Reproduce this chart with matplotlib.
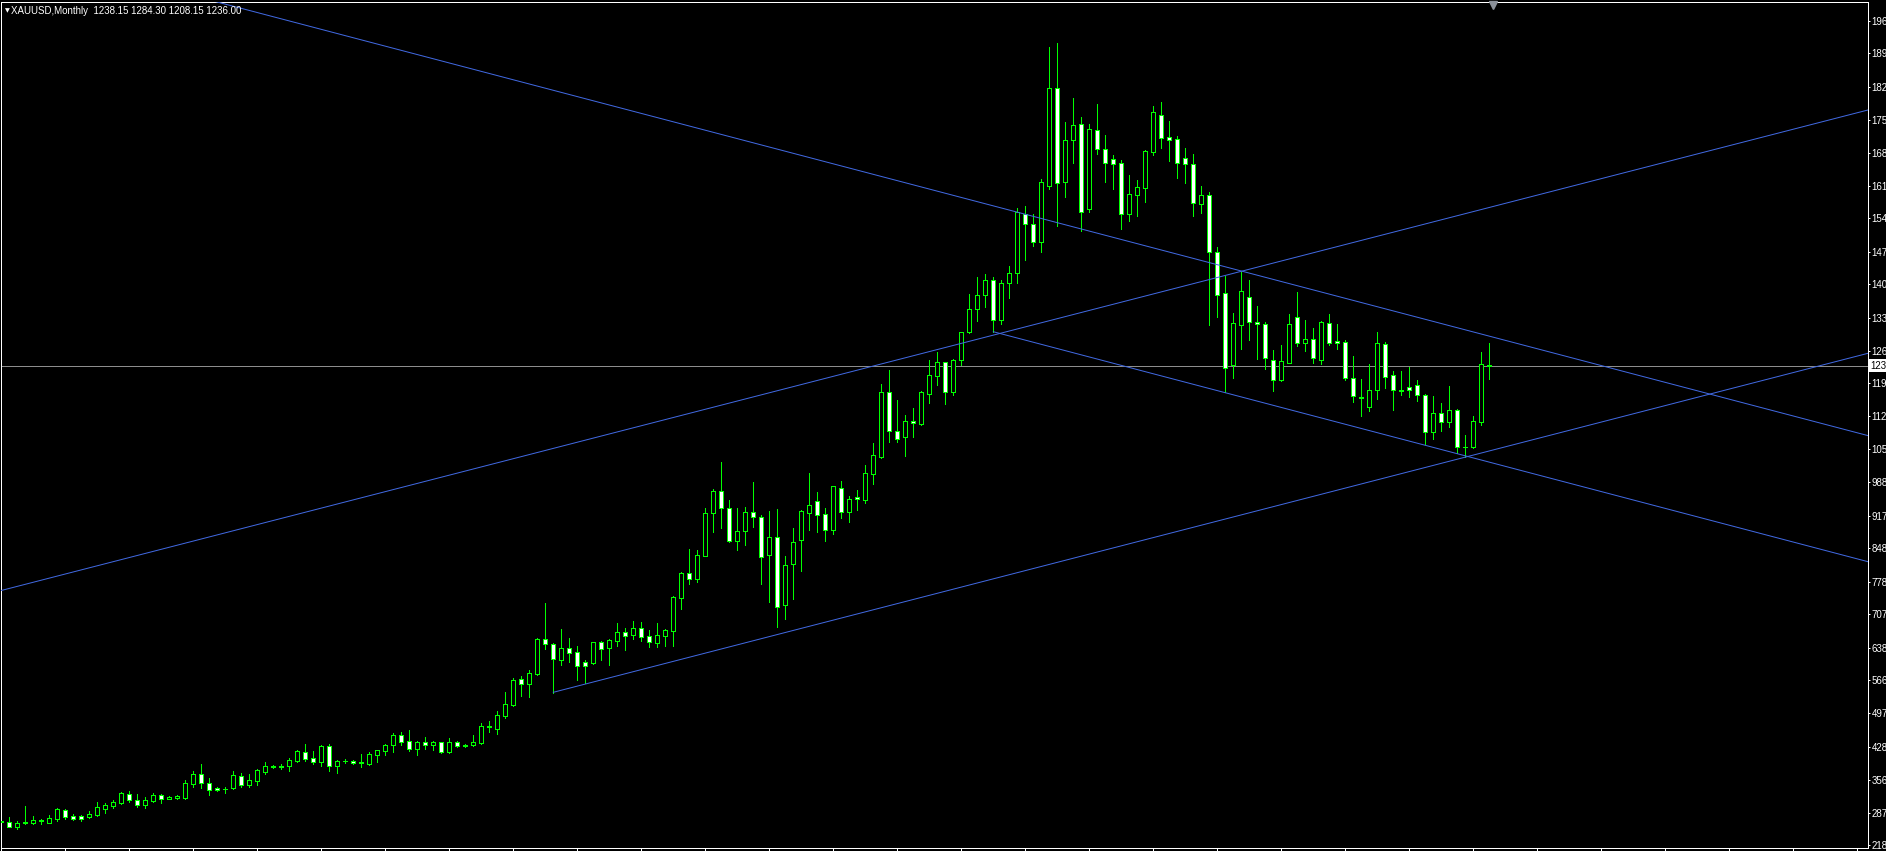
import matplotlib
matplotlib.use("Agg")
import matplotlib.pyplot as plt
import numpy as np

# monthly XAUUSD bars (oldest first)
OPEN = [
    268.0, 266.6, 257.4, 264.5, 266.0, 270.0, 265.9, 273.7, 292.8, 280.0,
    280.0, 277.9, 282.9, 295.6, 302.0, 308.3, 326.8, 313.3, 304.1, 311.9,
    323.9, 317.0, 319.0, 319.0, 348.7, 369.2, 350.1, 338.8, 337.0, 339.5,
    365.0, 346.6, 355.1, 374.2, 385.0, 386.0, 385.5, 397.5, 415.2, 402.5,
    395.4, 428.0, 386.9, 396.8, 396.8, 393.0, 391.2, 410.3, 418.8, 430.0,
    452.0, 439.3, 423.0, 437.2, 430.1, 436.5, 416.6, 437.2, 430.0, 430.0,
    435.7, 471.0, 465.5, 493.1, 516.5, 570.3, 561.1, 582.3, 655.2, 644.6,
    612.0, 636.8, 627.6, 607.0, 605.7, 648.8, 637.5, 652.4, 670.1, 665.1,
    678.6, 661.6, 648.1, 663.0, 673.6, 743.7, 795.3, 784.0, 832.8, 923.0,
    971.0, 933.0, 865.0, 885.9, 924.8, 914.2, 835.0, 871.7, 728.8, 815.8,
    866.1, 924.1, 948.9, 921.3, 888.0, 976.5, 926.2, 957.4, 951.7, 1006.9,
    1043.0, 1179.6, 1096.8, 1084.0, 1118.0, 1113.0, 1176.8, 1215.0, 1243.3, 1181.0,
    1248.0, 1307.0, 1357.0, 1386.0, 1417.4, 1332.5, 1411.0, 1432.3, 1559.0, 1536.3,
    1499.5, 1617.0, 1825.0, 1626.9, 1714.6, 1748.6, 1568.0, 1735.9, 1695.5, 1674.3,
    1665.8, 1559.0, 1599.0, 1614.2, 1690.6, 1767.7, 1721.0, 1716.8, 1676.4, 1663.7,
    1578.8, 1597.9, 1476.8, 1389.8, 1238.3, 1323.6, 1381.0, 1328.2, 1324.0, 1247.5,
    1205.0, 1242.6, 1338.8, 1283.6, 1292.0, 1247.5, 1326.0, 1287.9, 1285.7, 1209.3,
    1169.0, 1147.7, 1185.2, 1281.5, 1215.7, 1183.0, 1190.2, 1194.4, 1173.2, 1094.6,
    1135.0, 1115.9, 1141.4, 1064.5, 1062.8, 1117.3, 1238.15,
]
HIGH = [
    274.0, 277.2, 269.4, 301.3, 280.0, 274.4, 281.5, 297.0, 295.6, 284.3,
    282.2, 290.7, 309.8, 307.6, 314.0, 331.0, 333.1, 326.8, 319.7, 329.6,
    327.5, 322.5, 323.9, 356.5, 374.9, 390.4, 360.7, 341.0, 341.6, 374.9,
    371.3, 369.2, 380.0, 394.7, 389.0, 390.5, 403.2, 420.2, 432.9, 418.1,
    430.0, 432.2, 399.0, 401.0, 399.0, 411.7, 415.9, 421.0, 432.9, 457.0,
    458.4, 462.6, 439.0, 447.8, 439.0, 438.0, 445.0, 439.0, 432.0, 452.0,
    476.8, 481.7, 503.0, 543.4, 573.1, 577.4, 590.0, 658.0, 732.3, 646.7,
    677.1, 658.0, 640.3, 611.0, 650.0, 652.0, 656.6, 689.9, 679.3, 694.1,
    692.0, 675.0, 689.9, 677.1, 747.2, 798.2, 847.0, 845.0, 935.0, 975.0,
    1032.0, 950.0, 934.0, 936.1, 989.2, 919.2, 927.6, 931.9, 832.1, 891.6,
    929.0, 1008.3, 968.0, 934.0, 981.5, 991.3, 959.5, 972.2, 1024.6, 1071.3,
    1197.3, 1227.0, 1163.3, 1131.5, 1146.3, 1181.7, 1249.0, 1265.0, 1245.0, 1251.0,
    1307.0, 1388.0, 1424.0, 1431.0, 1423.8, 1418.1, 1447.8, 1570.3, 1575.2, 1558.2,
    1632.5, 1912.1, 1920.6, 1753.6, 1803.8, 1763.5, 1748.6, 1791.8, 1725.3, 1683.5,
    1672.9, 1641.0, 1630.4, 1694.1, 1787.5, 1796.0, 1755.0, 1723.1, 1698.4, 1684.9,
    1617.7, 1604.2, 1487.5, 1425.8, 1347.3, 1435.5, 1417.8, 1362.9, 1328.9, 1268.7,
    1279.4, 1345.9, 1392.6, 1332.4, 1316.2, 1331.0, 1345.9, 1324.7, 1290.7, 1256.7,
    1207.9, 1239.7, 1307.7, 1286.4, 1224.2, 1224.2, 1233.4, 1205.0, 1175.3, 1171.8,
    1156.9, 1193.0, 1143.5, 1088.0, 1129.3, 1265.2, 1284.30,
]
LOW = [
    254.0, 256.5, 253.1, 263.0, 263.7, 263.7, 264.5, 269.4, 274.4, 271.5,
    270.1, 275.8, 280.7, 287.1, 297.7, 306.2, 309.8, 299.9, 297.7, 310.5,
    307.6, 316.1, 316.1, 316.8, 342.3, 339.5, 325.3, 333.0, 329.6, 337.4,
    342.3, 341.0, 345.2, 369.9, 382.0, 380.5, 376.3, 395.4, 396.1, 391.2,
    386.9, 376.3, 372.1, 392.6, 391.0, 384.8, 388.3, 394.7, 409.6, 416.6,
    431.5, 417.4, 410.3, 421.6, 420.9, 414.5, 414.5, 426.5, 426.5, 428.0,
    433.6, 459.1, 454.0, 488.9, 513.0, 535.6, 533.5, 580.0, 635.4, 542.0,
    601.4, 607.1, 568.9, 561.8, 603.0, 611.3, 600.7, 641.0, 632.5, 655.9,
    651.7, 639.6, 639.6, 641.0, 641.0, 719.6, 773.4, 776.0, 832.0, 883.0,
    892.0, 862.6, 845.0, 855.5, 894.4, 772.7, 734.4, 682.1, 698.4, 740.8,
    800.3, 887.3, 883.0, 864.0, 879.5, 912.8, 904.3, 930.5, 945.3, 985.0,
    1040.9, 1074.9, 1074.9, 1044.4, 1085.5, 1110.9, 1157.7, 1195.9, 1155.5, 1174.6,
    1237.6, 1305.0, 1330.0, 1360.0, 1308.4, 1324.7, 1380.6, 1412.4, 1460.6, 1490.3,
    1478.3, 1610.6, 1533.5, 1595.0, 1667.2, 1522.9, 1562.0, 1686.3, 1626.2, 1611.3,
    1526.4, 1544.0, 1554.7, 1583.7, 1684.2, 1698.4, 1671.5, 1634.7, 1624.8, 1554.7,
    1561.1, 1321.8, 1338.8, 1180.0, 1209.0, 1272.3, 1290.7, 1251.0, 1228.4, 1183.1,
    1202.9, 1241.1, 1277.0, 1268.0, 1242.6, 1240.4, 1280.8, 1272.3, 1205.0, 1159.8,
    1130.0, 1141.0, 1165.4, 1188.8, 1142.0, 1173.9, 1170.4, 1161.9, 1070.6, 1080.5,
    1098.2, 1105.3, 1051.5, 1043.0, 1061.0, 1111.0, 1208.15,
]
CLOSE = [
    270.0, 257.4, 264.5, 266.5, 271.5, 271.0, 275.1, 295.0, 278.6, 274.4,
    274.4, 284.3, 298.4, 302.7, 309.8, 328.9, 314.0, 304.1, 314.0, 324.6,
    316.8, 320.0, 321.5, 350.1, 368.5, 350.8, 336.0, 334.5, 338.0, 367.1,
    346.6, 356.0, 377.5, 385.5, 386.0, 385.0, 398.3, 417.4, 401.8, 395.4,
    428.0, 386.9, 396.8, 397.5, 391.9, 394.0, 411.7, 420.2, 430.8, 452.0,
    437.9, 423.0, 437.2, 430.1, 437.2, 416.6, 437.2, 428.0, 429.0, 437.2,
    471.1, 468.0, 494.5, 517.9, 568.9, 561.1, 583.0, 655.9, 644.6, 614.2,
    636.1, 626.9, 599.3, 599.0, 648.8, 635.4, 653.8, 670.8, 663.0, 678.6,
    660.9, 648.8, 663.7, 675.0, 744.4, 795.3, 784.0, 833.5, 923.0, 971.0,
    933.0, 865.0, 886.0, 924.8, 914.2, 830.7, 872.3, 724.5, 812.3, 861.1,
    927.6, 940.4, 918.5, 888.0, 980.7, 926.2, 952.4, 952.4, 1007.6, 1045.8,
    1179.6, 1098.2, 1081.2, 1118.0, 1113.8, 1179.6, 1215.7, 1244.0, 1181.0, 1248.0,
    1307.0, 1357.0, 1386.0, 1417.4, 1332.5, 1411.0, 1432.3, 1563.0, 1536.3, 1499.5,
    1625.5, 1825.0, 1623.4, 1714.6, 1746.5, 1563.2, 1738.0, 1697.0, 1667.2, 1663.7,
    1559.0, 1600.0, 1614.9, 1691.3, 1774.1, 1720.3, 1714.6, 1665.8, 1663.7, 1580.9,
    1597.9, 1476.8, 1385.6, 1232.3, 1326.0, 1394.0, 1327.9, 1324.0, 1251.8, 1205.0,
    1245.4, 1324.0, 1283.6, 1292.0, 1251.8, 1328.2, 1283.6, 1283.6, 1209.3, 1171.1,
    1167.0, 1183.8, 1283.6, 1211.4, 1183.8, 1184.5, 1183.8, 1173.2, 1094.6, 1135.0,
    1115.9, 1141.4, 1064.2, 1063.5, 1118.0, 1239.0, 1236.00,
]

# trend lines as (bar, price) anchor pairs
CHANNEL_TOP = (123.6, 1577.3, 156.1, 1432.3)
CHANNEL_BOTTOM = (124.0, 1308.3, 233.34, 820.0)
RISING_TOP = (-0.16, 758.2, 233.34, 1779.1)
RISING_BOTTOM = (69.0, 542.7, 233.34, 1262.5)
BID_PRICE = 1236.00

PRICE_TICKS = [218.5, 287.1, 356.5, 427.2, 498.1, 568.8, 636.8, 709.0, 776.9,
               848.4, 917.7, 989.2, 1058.7, 1129.4, 1200.1, 1268.0, 1338.1,
               1409.0, 1478.2, 1549.1, 1618.3, 1688.3, 1757.8, 1827.2, 1899.4,
               1968.7]
PRICE_LABELS = ["218", "287", "356", "428", "497", "566", "638", "707", "778",
                "848", "917", "988", "105", "112", "119", "126", "133", "140",
                "147", "154", "161", "168", "175", "182", "189", "196"]

TITLE = "XAUUSD,Monthly  1238.15 1284.30 1208.15 1236.00"

W, H = 1886, 851
GREEN = "#00ff00"
BLUE = "#4169e1"
FONT = ["Liberation Sans", "DejaVu Sans"]
PX = 0.72  # one pixel in points at 100 dpi


def line_through(ax, seg, ray=False):
    k1, p1, k2, p2 = seg
    slope = (p2 - p1) / (k2 - k1)
    x_end = 240.0
    x_start = k1 if ray else -10.0
    ax.plot([x_start, x_end],
            [p1 + slope * (x_start - k1), p1 + slope * (x_end - k1)],
            color=BLUE, lw=PX, zorder=4)


def main():
    o = np.array(OPEN)
    h = np.array(HIGH)
    l = np.array(LOW)
    c = np.array(CLOSE)
    x = np.arange(len(o))

    fig = plt.figure(figsize=(W / 100, H / 100), dpi=100, facecolor="black")
    # plot frame in pixels: x 1..1868, y 2..848
    ax = fig.add_axes([1 / W, 3 / H, 1867 / W, 846 / H], facecolor="black")

    # 8 px per bar, bar 0 at x=1.3 px; 2.1232 per px, 218.5 at y=845 px
    ax.set_xlim((1 - 1.3) / 8, (1868 - 1.3) / 8)
    ax.set_ylim(218.5 - 3 * 2.1232, 218.5 + 843 * 2.1232)

    ax.vlines(x, l, h, color=GREEN, lw=PX, antialiased=False, zorder=2)
    up = c >= o
    fills = np.where(up, "black", "white")
    ax.bar(x, np.abs(c - o), bottom=np.minimum(o, c), width=0.5,
           color=fills, edgecolor=GREEN, linewidth=PX,
           antialiased=False, zorder=3)

    line_through(ax, CHANNEL_TOP)
    line_through(ax, CHANNEL_BOTTOM, ray=True)
    line_through(ax, RISING_TOP)
    line_through(ax, RISING_BOTTOM, ray=True)
    ax.axhline(BID_PRICE, color="#8c8c8c", lw=PX, zorder=1)

    for side in ax.spines.values():
        side.set_color("white")
        side.set_linewidth(PX)

    ax.yaxis.tick_right()
    ax.set_yticks(PRICE_TICKS)
    ax.set_yticklabels(PRICE_LABELS, family=FONT)
    ax.tick_params(axis="y", colors="white", labelsize=7, length=1.6,
                   width=PX, pad=0.8, direction="out")
    ax.set_xticks(np.arange(0, 234, 8))
    ax.tick_params(axis="x", colors="white", length=3, width=PX,
                   labelbottom=False, direction="out")

    # current price label
    ax.text(1.0015, BID_PRICE, "123", transform=ax.get_yaxis_transform(),
            ha="left", va="center", fontsize=7, color="black", family=FONT,
            bbox=dict(boxstyle="square,pad=0.15", fc="white", ec="none"),
            clip_on=False, zorder=6)

    # chart shift marker
    ax.plot([186.4], [1.0 - 3 / 846], marker="v", markersize=5.5,
            color="#8a9099", transform=ax.get_xaxis_transform(),
            clip_on=False, zorder=6)

    fig.text(7 / W, 1 - 11 / H, "\u25bc", color="white", fontsize=4.5,
             ha="center", va="center")
    fig.text(11 / W, 1 - 11 / H, TITLE, color="white", fontsize=7,
             family=FONT, ha="left", va="center")

    fig.savefig("out.png", dpi=100, facecolor="black")
    plt.close(fig)


if __name__ == "__main__":
    main()
